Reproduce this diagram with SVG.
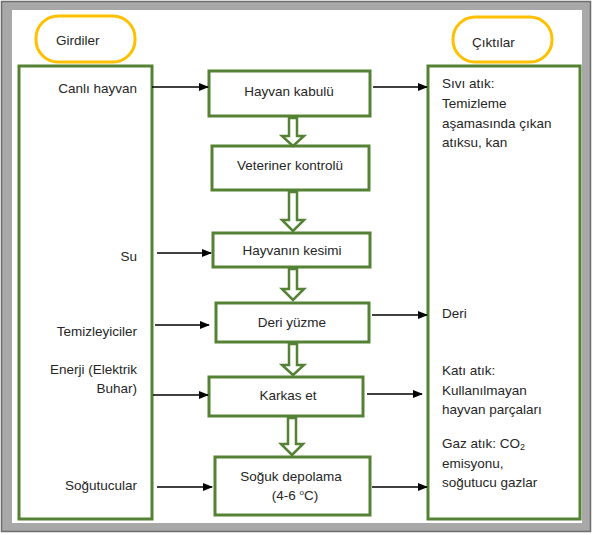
<svg xmlns="http://www.w3.org/2000/svg" width="593" height="535" viewBox="0 0 593 535">
<style>
text{font-family:"Liberation Sans",Arial,sans-serif;font-size:13.5px;fill:#262626}
.box{fill:#fff;stroke:#548235;stroke-width:3}
.pill{fill:#fff;stroke:#FFC000;stroke-width:3}
.blk{fill:#fff;stroke:#548235;stroke-width:2.5;stroke-linejoin:miter}
.ln{stroke:#000;stroke-width:1.5;fill:none}
.r{text-anchor:end}
.c{text-anchor:middle}
</style>
<defs>
<marker id="ah" markerWidth="10" markerHeight="8" refX="9" refY="4" orient="auto" markerUnits="userSpaceOnUse">
<path d="M0,0 L10,4 L0,8 Z" fill="#000"/>
</marker>
</defs>
<rect x="1.5" y="1.5" width="589" height="530" fill="#a8a8a8" stroke="#6e6e6e" stroke-width="1.5"/>
<rect x="12" y="10" width="570" height="513" fill="#fff"/>

<g id="inputs">
<rect class="box" x="19" y="66" width="133" height="453"/>
<text class="r" x="137" y="93">Canlı hayvan</text>
<text class="r" x="137" y="261">Su</text>
<text class="r" x="137" y="336">Temizleyiciler</text>
<text class="r" x="137" y="374">Enerji (Elektrik</text>
<text class="r" x="137" y="393">Buhar)</text>
<text class="r" x="137" y="490">Soğutucular</text>
</g>
<g id="girdiler">
<rect class="pill" x="36" y="16" width="99" height="46" rx="22"/>
<text x="56" y="45">Girdiler</text>
</g>
<g id="outputs">
<rect class="box" x="428" y="66" width="152" height="453"/>
<text x="442" y="88">Sıvı atık:</text>
<text x="442" y="108">Temizleme</text>
<text x="442" y="128">aşamasında çıkan</text>
<text x="442" y="147">atıksu, kan</text>
<text x="442" y="318">Deri</text>
<text x="442" y="375">Katı atık:</text>
<text x="442" y="395">Kullanılmayan</text>
<text x="442" y="414">hayvan parçaları</text>
<text x="442" y="448">Gaz atık: CO<tspan font-size="9" dy="2">2</tspan></text>
<text x="442" y="468">emisyonu,</text>
<text x="442" y="487">soğutucu gazlar</text>
</g>
<g id="ciktilar">
<rect class="pill" x="453" y="17" width="99" height="45" rx="22"/>
<text x="472" y="47">Çıktılar</text>
</g>

<g id="n1"><rect class="box" x="209" y="71" width="161" height="45"/><text class="c" x="289" y="96">Hayvan kabulü</text></g>
<g id="n2"><rect class="box" x="212" y="146" width="157" height="44"/><text class="c" x="290" y="170">Veteriner kontrolü</text></g>
<g id="n3"><rect class="box" x="213" y="233" width="157" height="34"/><text class="c" x="292" y="255">Hayvanın kesimi</text></g>
<g id="n4"><rect class="box" x="216" y="303" width="153" height="39"/><text class="c" x="292" y="327">Deri yüzme</text></g>
<g id="n5"><rect class="box" x="209" y="377" width="154" height="39"/><text class="c" x="288" y="400">Karkas et</text></g>
<g id="n6"><rect class="box" x="215" y="457" width="155" height="58"/><text class="c" x="291" y="481">Soğuk depolama</text><text class="c" x="295" y="500">(4-6 <tspan font-size="8" dy="-5">o</tspan><tspan dy="5">C)</tspan></text></g>

<g id="connectors">
<path class="blk" d="M289,118 h8 v18 h7 l-11,10 l-11,-10 h7 Z"/>
<path class="blk" d="M289,192 h8 v28 h7 l-11,11 l-11,-11 h7 Z"/>
<path class="blk" d="M289,269 h8 v20 h7 l-11,11 l-11,-11 h7 Z"/>
<path class="blk" d="M289,344 h8 v21 h7 l-11,10 l-11,-10 h7 Z"/>
<path class="blk" d="M288,418 h8 v26 h7 l-11,11 l-11,-11 h7 Z"/>
<line class="ln" x1="152" y1="87" x2="208" y2="87" marker-end="url(#ah)"/>
<line class="ln" x1="157" y1="253" x2="211" y2="253" marker-end="url(#ah)"/>
<line class="ln" x1="155" y1="325" x2="209" y2="325" marker-end="url(#ah)"/>
<line class="ln" x1="153" y1="395" x2="208" y2="395" marker-end="url(#ah)"/>
<line class="ln" x1="157" y1="487" x2="212" y2="487" marker-end="url(#ah)"/>
<line class="ln" x1="373" y1="87" x2="427" y2="87" marker-end="url(#ah)"/>
<line class="ln" x1="372" y1="315" x2="427" y2="315" marker-end="url(#ah)"/>
<line class="ln" x1="367" y1="394" x2="422" y2="394" marker-end="url(#ah)"/>
<line class="ln" x1="372" y1="487" x2="427" y2="487" marker-end="url(#ah)"/>
</g>
</svg>
